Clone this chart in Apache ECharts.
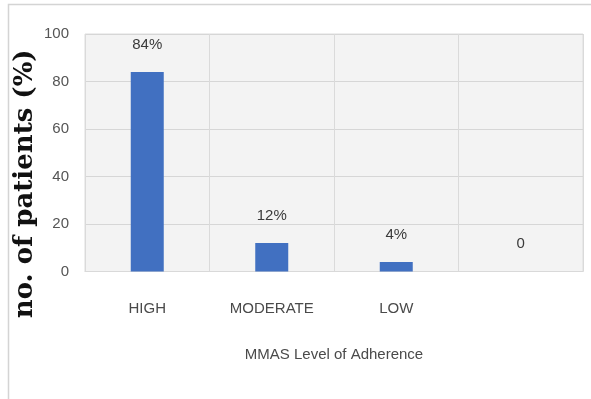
<!DOCTYPE html>
<html>
<head>
<meta charset="utf-8">
<script src="https://cdn.jsdelivr.net/npm/echarts@6/dist/echarts.min.js"></script>
<style>
html,body{margin:0;padding:0;background:#fff;}
#c{width:591px;height:399px;}
</style>
</head>
<body>
<div id="c"></div>
<script>
var categories = ['HIGH', 'MODERATE', 'LOW', ''];
var values = [84, 12, 4, 0];
var valueLabels = ['84%', '12%', '4%', '0'];
var yTicks = [0, 20, 40, 60, 80, 100];

var narrow = '"Liberation Sans Narrow", "Liberation Sans", sans-serif';
var chart = echarts.init(document.getElementById('c'), null, {renderer: 'canvas'});
chart.setOption({
  backgroundColor: '#ffffff',
  animation: false,
  graphic: [{
    type: 'polyline',
    shape: {points: [[8.5, 399], [8.5, 4.5], [591, 4.5]]},
    style: {stroke: '#d4d4d4', lineWidth: 1.5, fill: null},
    silent: true
  }],
  grid: {
    left: 85, right: 8, top: 34, bottom: 127.5,
    show: true, backgroundColor: '#f3f3f3', borderColor: '#dcdcdc', borderWidth: 1
  },
  xAxis: {
    type: 'category',
    data: categories,
    axisLine: {show: true, lineStyle: {color: '#d9d9d9', width: 1}},
    axisTick: {show: false},
    splitLine: {show: true, lineStyle: {color: '#dadada', width: 1}},
    axisLabel: {margin: 30, fontFamily: narrow, fontSize: 15, color: '#4a4a4a'},
    name: 'MMAS Level of Adherence',
    nameLocation: 'middle',
    nameGap: 76,
    nameTextStyle: {fontFamily: narrow, fontSize: 15, color: '#4a4a4a'}
  },
  yAxis: {
    type: 'value',
    min: yTicks[0], max: yTicks[yTicks.length - 1], interval: yTicks[1] - yTicks[0],
    axisLine: {show: false},
    axisTick: {show: false},
    splitLine: {show: true, lineStyle: {color: '#d6d6d6', width: 1}},
    axisLabel: {margin: 16, fontFamily: narrow, fontSize: 15, color: '#555555'},
    name: 'no. of patients (%)',
    nameLocation: 'middle',
    nameGap: 47,
    nameMoveOverlap: false,
    nameTextStyle: {
      fontFamily: '"DejaVu Serif", "Liberation Serif", serif',
      fontWeight: 'bold', fontSize: 26, color: '#111111',
      padding: [0, 62, 0, 0]
    }
  },
  series: [{
    type: 'bar',
    data: values,
    barWidth: 33,
    itemStyle: {color: '#4170c1'},
    label: {
      show: true, position: 'top', distance: 20,
      fontFamily: narrow, fontSize: 15, color: '#3a3a3a',
      formatter: function (p) { return valueLabels[p.dataIndex]; }
    }
  }]
});
</script>
</body>
</html>
